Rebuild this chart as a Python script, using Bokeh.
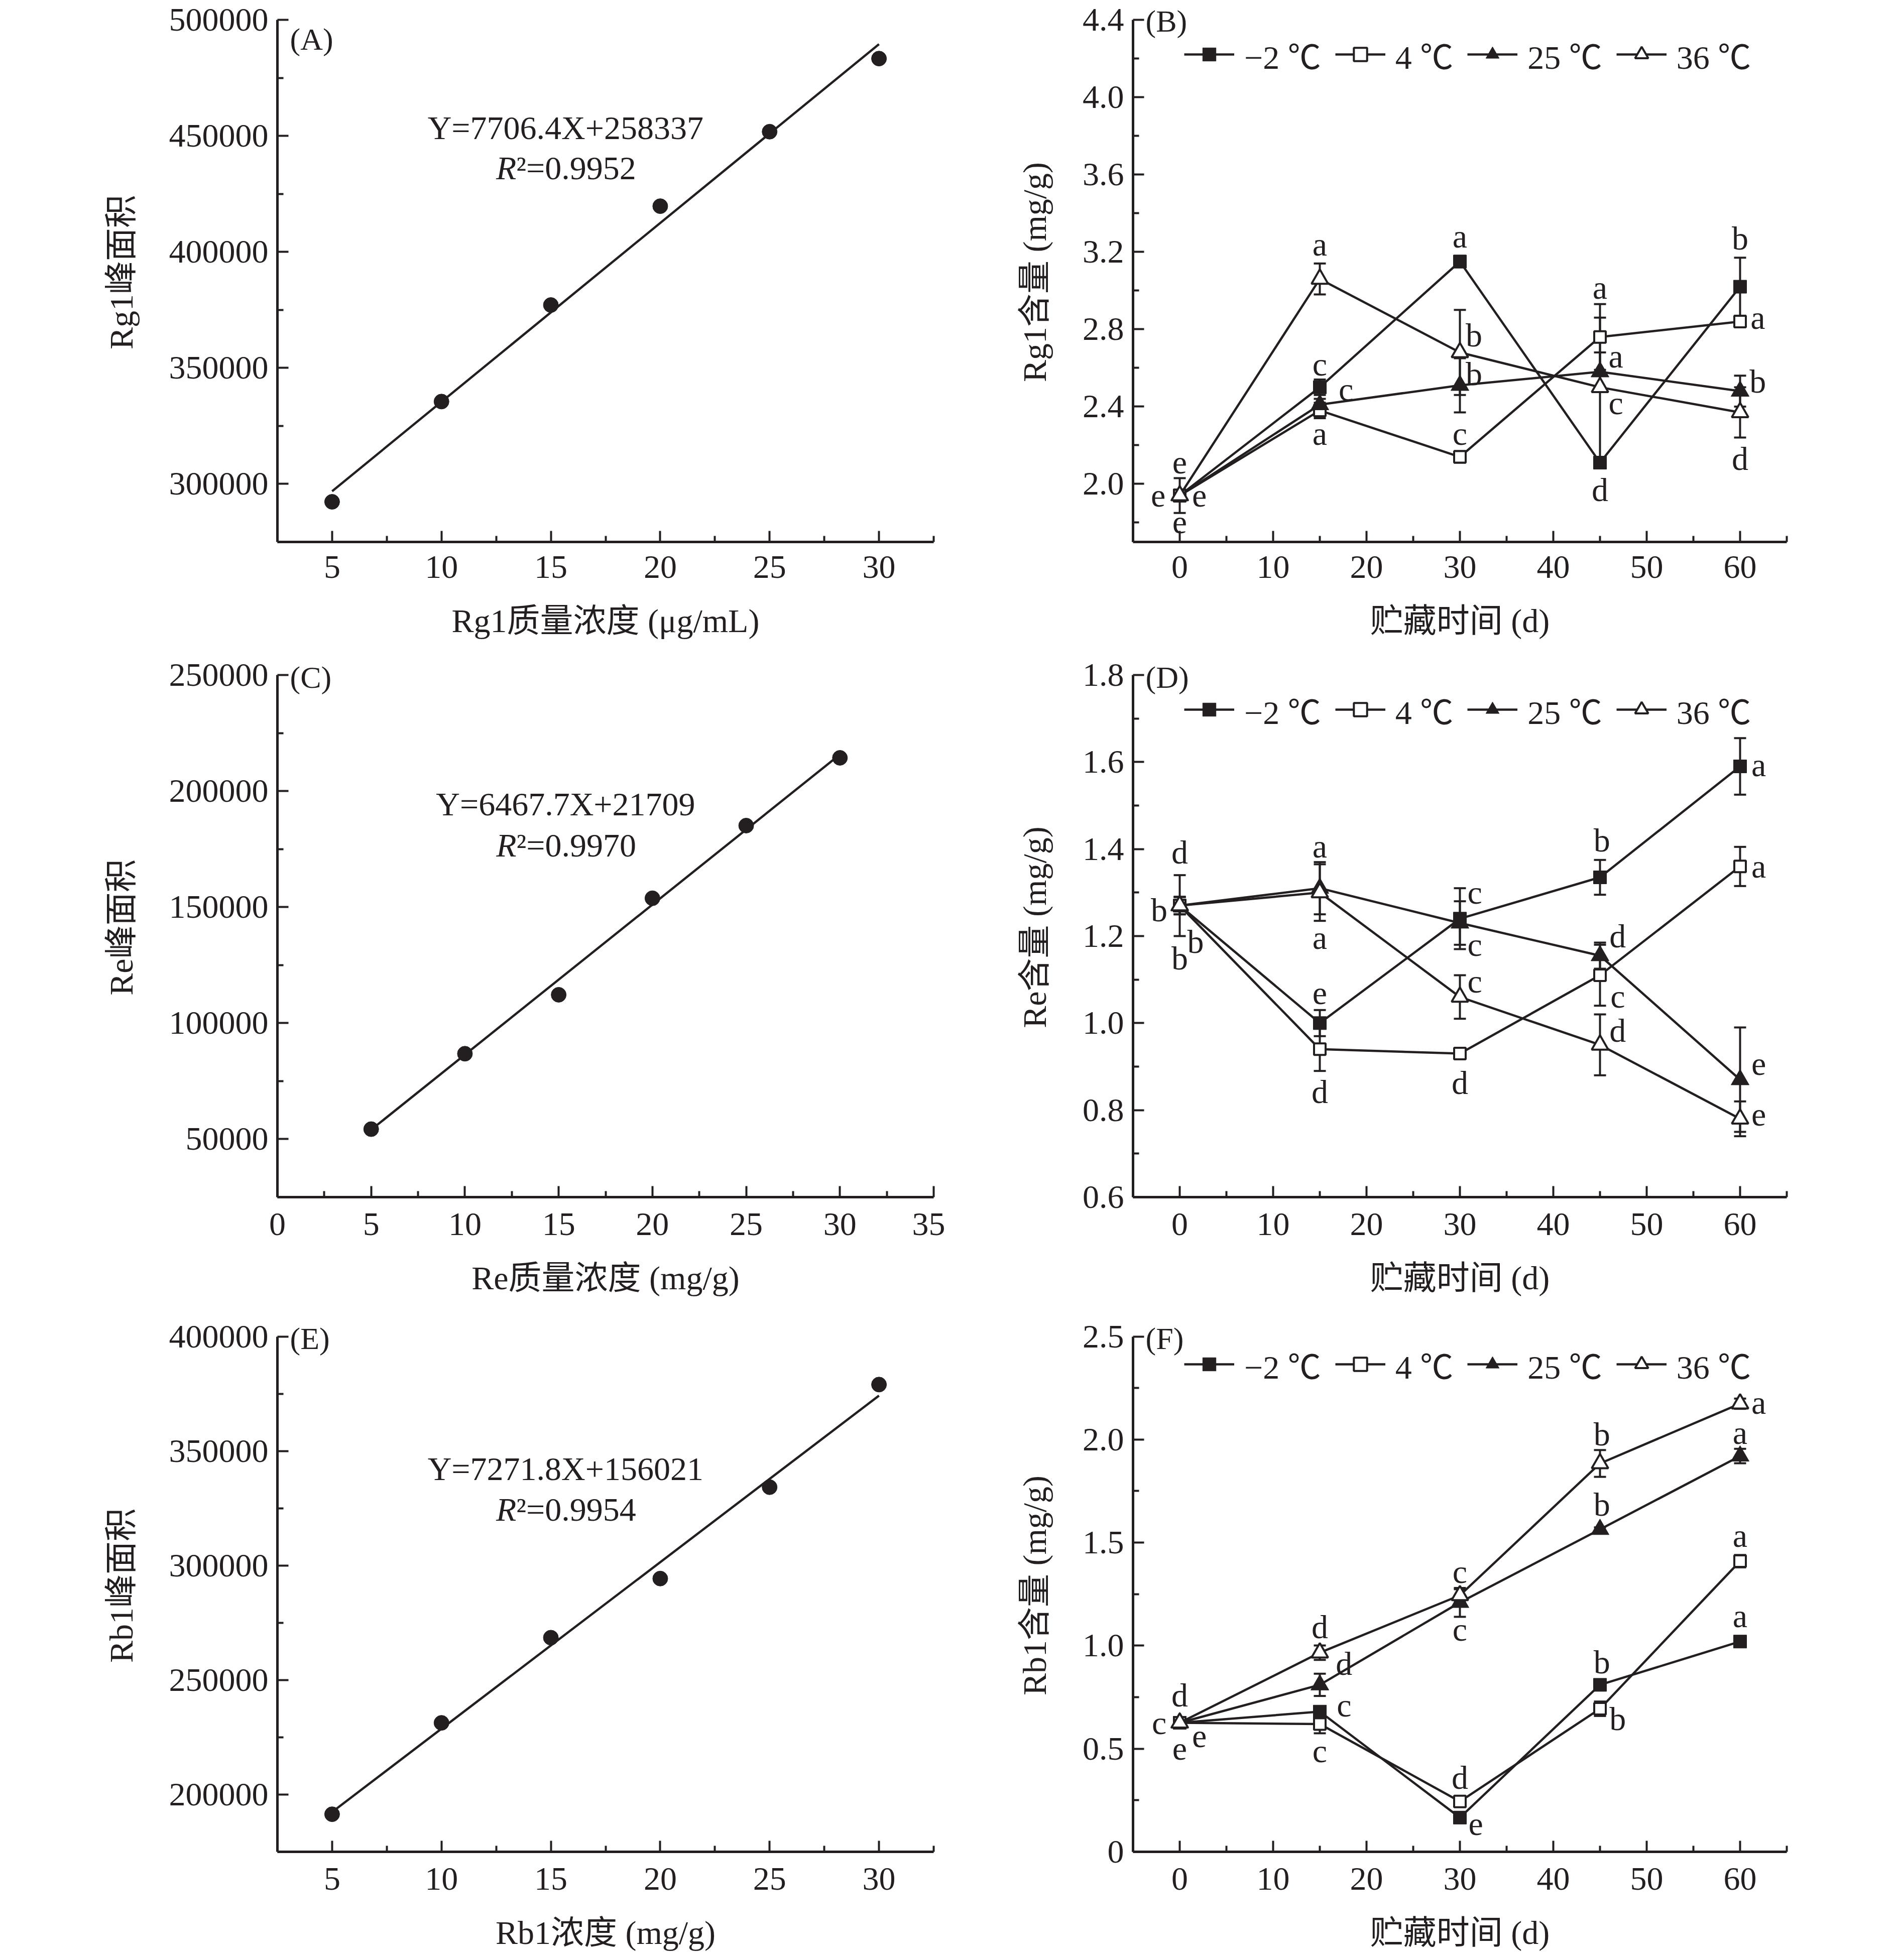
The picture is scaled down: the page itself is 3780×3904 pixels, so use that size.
from bokeh.plotting import figure
from bokeh.models import (ColumnDataSource, Whisker, TeeHead, Label, Legend, LegendItem,
                          FixedTicker, Range1d, PrintfTickFormatter)
from bokeh.layouts import column, row
from bokeh.embed import file_html
from bokeh.resources import INLINE
from bokeh.core.properties import value

FONT = "'Liberation Serif', 'Noto Sans CJK SC'"
INK = "#231f20"
FS = "66px"

# ---------------- standard curves ----------------
conc_A = [5, 10, 15, 20, 25, 30]
area_A = [292300, 335500, 377100, 419700, 451800, 483300]
slope_A, icpt_A = 7706.4, 258337
eq_A, r2_A = "Y=7706.4X+258337", "0.9952"

conc_C = [5, 10, 15, 20, 25, 30]
area_C = [54300, 86800, 112200, 153800, 185100, 214300]
slope_C, icpt_C = 6467.7, 21709
eq_C, r2_C = "Y=6467.7X+21709", "0.9970"

conc_E = [5, 10, 15, 20, 25, 30]
area_E = [191400, 231300, 268500, 294300, 334200, 379000]
slope_E, icpt_E = 7271.8, 156021
eq_E, r2_E = "Y=7271.8X+156021", "0.9954"

# ---------------- storage series ----------------
days = [0, 15, 30, 45, 60]
series_names = ["\u22122 \u2103", "4 \u2103", "25 \u2103", "36 \u2103"]

rg1_m2 = [1.94, 2.50, 3.15, 2.11, 3.02]
rg1_m2_err = [0.09, 0.04, 0.03, 0.02, 0.15]
rg1_4 = [1.94, 2.38, 2.14, 2.76, 2.84]
rg1_4_err = [0.03, 0.04, 0.03, 0.17, 0.02]
rg1_25 = [1.94, 2.41, 2.51, 2.58, 2.48]
rg1_25_err = [0.03, 0.03, 0.14, 0.10, 0.08]
rg1_36 = [1.94, 3.06, 2.68, 2.50, 2.37]
rg1_36_err = [0.03, 0.08, 0.22, 0.36, 0.13]

re_m2 = [1.27, 1.00, 1.24, 1.335, 1.59]
re_m2_err = [0.07, 0.03, 0.07, 0.04, 0.065]
re_4 = [1.27, 0.94, 0.93, 1.11, 1.36]
re_4_err = [0.02, 0.05, 0.01, 0.07, 0.045]
re_25 = [1.27, 1.31, 1.23, 1.155, 0.87]
re_25_err = [0.02, 0.06, 0.05, 0.03, 0.12]
re_36 = [1.27, 1.30, 1.06, 0.95, 0.78]
re_36_err = [0.02, 0.065, 0.05, 0.07, 0.04]

rb1_m2 = [0.626, 0.68, 0.166, 0.81, 1.02]
rb1_m2_err = [0.02, 0.02, 0.02, 0.02, 0.02]
rb1_4 = [0.626, 0.62, 0.244, 0.694, 1.41]
rb1_4_err = [0.02, 0.045, 0.015, 0.035, 0.03]
rb1_25 = [0.626, 0.81, 1.21, 1.564, 1.92]
rb1_25_err = [0.02, 0.054, 0.07, 0.01, 0.035]
rb1_36 = [0.626, 0.966, 1.244, 1.884, 2.174]
rb1_36_err = [0.02, 0.035, 0.03, 0.065, 0.025]

# significance letters (x, y, letter) in data units
letters_B_x = [0, -2.3, 2.1, 0, 15, 15, 17.8, 15, 30, 31.5, 31.5, 30, 45, 46.7, 46.7, 45, 60, 61.9, 61.9, 60]
letters_B_y = [2.11, 1.94, 1.94, 1.80, 3.24, 2.62, 2.49, 2.26, 3.28, 2.77, 2.57, 2.26, 3.015, 2.66, 2.42, 1.97, 3.27, 2.86, 2.53, 2.13]
letters_B_t = ["e", "e", "e", "e", "a", "c", "c", "a", "a", "b", "b", "c", "a", "a", "c", "d", "b", "a", "b", "d"]

letters_D_x = [0, -2.2, 1.7, 0, 15, 15, 15, 15, 31.6, 31.6, 31.6, 30, 45.2, 46.9, 46.9, 46.9, 62, 62, 62, 62]
letters_D_y = [1.393, 1.26, 1.187, 1.149, 1.407, 1.196, 1.069, 0.842, 1.30, 1.18, 1.096, 0.863, 1.42, 1.20, 1.062, 0.983, 1.594, 1.36, 0.906, 0.789]
letters_D_t = ["d", "b", "b", "b", "a", "a", "e", "d", "c", "c", "c", "d", "b", "d", "c", "d", "a", "a", "e", "e"]

letters_F_x = [0, -2.2, 2.1, 0, 15, 17.6, 17.6, 15, 30, 30, 30, 31.7, 45.2, 45.2, 45.2, 46.9, 62, 60, 60, 60]
letters_F_y = [0.76, 0.626, 0.56, 0.50, 1.09, 0.914, 0.71, 0.49, 1.36, 1.08, 0.36, 0.134, 2.026, 1.686, 0.92, 0.646, 2.18, 2.034, 1.534, 1.144]
letters_F_t = ["d", "c", "e", "e", "d", "d", "c", "c", "c", "c", "d", "e", "b", "b", "b", "b", "a", "a", "a", "a"]

# ---------------- axes ticks ----------------
xt_std = [5, 10, 15, 20, 25, 30]
xt_std_lab = ["5", "10", "15", "20", "25", "30"]
xt_std_minor = [7.5, 12.5, 17.5, 22.5, 27.5, 32.5]
xt_C = [0, 5, 10, 15, 20, 25, 30, 35]
xt_C_lab = ["0", "5", "10", "15", "20", "25", "30", "35"]
xt_C_minor = [2.5, 7.5, 12.5, 17.5, 22.5, 27.5, 32.5]
xt_day = [0, 10, 20, 30, 40, 50, 60]
xt_day_lab = ["0", "10", "20", "30", "40", "50", "60"]
xt_day_minor = [-5, 5, 15, 25, 35, 45, 55, 65]

yt_A = [300000, 350000, 400000, 450000, 500000]
yt_A_lab = ["300000", "350000", "400000", "450000", "500000"]
yt_A_minor = [275000, 325000, 375000, 425000, 475000]
yt_C = [50000, 100000, 150000, 200000, 250000]
yt_C_lab = ["50000", "100000", "150000", "200000", "250000"]
yt_C_minor = [25000, 75000, 125000, 175000, 225000]
yt_E = [200000, 250000, 300000, 350000, 400000]
yt_E_lab = ["200000", "250000", "300000", "350000", "400000"]
yt_E_minor = [175000, 225000, 275000, 325000, 375000]
yt_B = [2.0, 2.4, 2.8, 3.2, 3.6, 4.0, 4.4]
yt_B_lab = ["2.0", "2.4", "2.8", "3.2", "3.6", "4.0", "4.4"]
yt_B_minor = [1.8, 2.2, 2.6, 3.0, 3.4, 3.8, 4.2]
yt_D = [0.6, 0.8, 1.0, 1.2, 1.4, 1.6, 1.8]
yt_D_lab = ["0.6", "0.8", "1.0", "1.2", "1.4", "1.6", "1.8"]
yt_D_minor = [0.7, 0.9, 1.1, 1.3, 1.5, 1.7]
yt_F = [0, 0.5, 1.0, 1.5, 2.0, 2.5]
yt_F_lab = ["0", "0.5", "1.0", "1.5", "2.0", "2.5"]
yt_F_minor = [0.25, 0.75, 1.25, 1.75, 2.25]

# ---------------- layout constants ----------------
FIG_W = 1882
AXIS_H = 1040          # pixel height of the drawn y axis
HEAD = 35              # free frame space above the top tick (for panel letters)
LEFT_COL = dict(bl=552, br=23)
RIGHT_COL = dict(bl=374, br=206)
ROWS = [dict(h=1290, bt=4, xs=28), dict(h=1318, bt=19, xs=32), dict(h=1280, bt=19, xs=32)]


def style_axis(ax, ticks, minor, labels, fmt, label, lab_standoff, tick_standoff):
    ax.ticker = FixedTicker(ticks=ticks, minor_ticks=minor)
    ax.formatter = PrintfTickFormatter(format=fmt)
    ax.major_label_overrides = {t: l for t, l in zip(ticks, labels)}
    ax.axis_label = label
    ax.axis_line_width = 5
    ax.axis_line_color = INK
    ax.major_tick_line_width = 4
    ax.minor_tick_line_width = 4
    ax.major_tick_line_color = INK
    ax.minor_tick_line_color = INK
    ax.major_tick_in = 22
    ax.major_tick_out = 0
    ax.minor_tick_in = 12
    ax.minor_tick_out = 0
    ax.major_label_standoff = tick_standoff
    ax.major_label_text_font = FONT
    ax.major_label_text_font_size = FS
    ax.major_label_text_color = INK
    ax.axis_label_text_font = FONT
    ax.axis_label_text_font_size = FS
    ax.axis_label_text_font_style = "normal"
    ax.axis_label_text_color = INK
    ax.axis_label_standoff = lab_standoff


def make_fig(col, rw, xr, yr, xt, xm, xl, xfmt, xlabel, yt, ym, yl, yfmt, ylabel):
    ytop = yr[1] + HEAD * (yr[1] - yr[0]) / AXIS_H
    fh = AXIS_H + HEAD
    p = figure(width=FIG_W, height=rw["h"], x_range=Range1d(*xr), y_range=Range1d(yr[0], ytop),
               output_backend="svg", toolbar_location=None, title=None,
               min_border_left=col["bl"], min_border_right=col["br"],
               min_border_top=rw["bt"], min_border_bottom=rw["h"] - rw["bt"] - fh)
    p.outline_line_color = None
    p.xgrid.visible = False
    p.ygrid.visible = False
    p.background_fill_color = "white"
    p.border_fill_color = "white"
    style_axis(p.xaxis[0], xt, xm, xl, xfmt, xlabel, 46, rw["xs"])
    style_axis(p.yaxis[0], yt, ym, yl, yfmt, ylabel, 56, 18)
    p.yaxis[0].bounds = (yr[0], yr[1])
    return p


def panel_label(p, text, xr, yr, dy):
    p.add_layout(Label(x=xr[0], y=yr[1], x_offset=25, y_offset=dy, text=text,
                       text_font=FONT, text_font_size="62px", text_color=INK,
                       text_align="left", text_baseline="middle"))


def std_panel(p, conc, area, slope, icpt, eq, r2, ex, ey1, ey2):
    xs = [conc[0], conc[-1]]
    p.line(xs, [slope * x + icpt for x in xs], line_color=INK, line_width=4.5)
    p.scatter(conc, area, marker="circle", size=30, fill_color=INK, line_color=INK)
    p.add_layout(Label(x=ex, y=ey1, text=eq, text_font=FONT, text_font_size=FS,
                       text_color=INK, text_align="center", text_baseline="middle"))
    p.add_layout(Label(x=ex, y=ey2, x_offset=-98, text="R", text_font=FONT, text_font_size=FS,
                       text_font_style="italic", text_color=INK, text_align="right",
                       text_baseline="middle"))
    p.add_layout(Label(x=ex, y=ey2, x_offset=-98, text="\u00b2=" + r2, text_font=FONT,
                       text_font_size=FS, text_color=INK, text_align="left",
                       text_baseline="middle"))


STYLES = [
    dict(marker="square", size=26, fill_color=INK, line_width=1),
    dict(marker="square", size=23, fill_color="white", line_width=4),
    dict(marker="triangle", size=36, fill_color=INK, line_width=1),
    dict(marker="triangle", size=33, fill_color="white", line_width=4),
]


def storage_panel(p, vals, errs, lx, ly, lt):
    items = []
    for v, e, st, name in zip(vals, errs, STYLES, series_names):
        src = ColumnDataSource(dict(x=days, y=v, up=[a + b for a, b in zip(v, e)],
                                    lo=[a - b for a, b in zip(v, e)]))
        p.add_layout(Whisker(source=src, base="x", upper="up", lower="lo", dimension="height",
                             line_color=INK, line_width=4,
                             upper_head=TeeHead(size=24, line_width=4, line_color=INK),
                             lower_head=TeeHead(size=24, line_width=4, line_color=INK)))
        lr = p.line("x", "y", source=src, line_color=INK, line_width=4.5)
        sr = p.scatter("x", "y", source=src, marker=st["marker"], size=st["size"],
                       fill_color=st["fill_color"], line_color=INK, line_width=st["line_width"])
        items.append(LegendItem(label=name, renderers=[lr, sr]))
    p.text(x=lx, y=ly, text=lt, text_font=value(FONT), text_font_size=FS, text_color=INK,
           text_align="center", text_baseline="middle")
    leg = Legend(items=items, orientation="horizontal", location=(102, 923),
                 label_text_font=FONT, label_text_font_size=FS, label_text_color=INK,
                 glyph_width=100, glyph_height=66, label_standoff=20, spacing=28,
                 padding=0, margin=0, border_line_color=None, background_fill_alpha=0,
                 label_height=66)
    p.add_layout(leg)


# ---- A
xrA, yrA = (2.5, 32.5), (275000, 500000)
pA = make_fig(LEFT_COL, ROWS[0], xrA, yrA, xt_std, xt_std_minor, xt_std_lab, "%d",
              "Rg1质量浓度 (μg/mL)", yt_A, yt_A_minor, yt_A_lab, "%d", "Rg1峰面积")
std_panel(pA, conc_A, area_A, slope_A, icpt_A, eq_A, r2_A, 15.67, 453460, 436150)
panel_label(pA, "(A)", xrA, yrA, -38)

# ---- B
xrB, yrB = (-5, 65), (1.7, 4.4)
pB = make_fig(RIGHT_COL, ROWS[0], xrB, yrB, xt_day, xt_day_minor, xt_day_lab, "%d",
              "贮藏时间 (d)", yt_B, yt_B_minor, yt_B_lab, "%.1f", "Rg1含量 (mg/g)")
storage_panel(pB, [rg1_m2, rg1_4, rg1_25, rg1_36],
              [rg1_m2_err, rg1_4_err, rg1_25_err, rg1_36_err],
              letters_B_x, letters_B_y, letters_B_t)
panel_label(pB, "(B)", xrB, yrB, -2)

# ---- C
xrC, yrC = (0, 35), (25000, 250000)
pC = make_fig(LEFT_COL, ROWS[1], xrC, yrC, xt_C, xt_C_minor, xt_C_lab, "%d",
              "Re质量浓度 (mg/g)", yt_C, yt_C_minor, yt_C_lab, "%d", "Re峰面积")
std_panel(pC, conc_C, area_C, slope_C, icpt_C, eq_C, r2_C, 15.37, 194400, 176600)
panel_label(pC, "(C)", xrC, yrC, -4)

# ---- D
xrD, yrD = (-5, 65), (0.6, 1.8)
pD = make_fig(RIGHT_COL, ROWS[1], xrD, yrD, xt_day, xt_day_minor, xt_day_lab, "%d",
              "贮藏时间 (d)", yt_D, yt_D_minor, yt_D_lab, "%.1f", "Re含量 (mg/g)")
storage_panel(pD, [re_m2, re_4, re_25, re_36],
              [re_m2_err, re_4_err, re_25_err, re_36_err],
              letters_D_x, letters_D_y, letters_D_t)
panel_label(pD, "(D)", xrD, yrD, -4)

# ---- E
xrE, yrE = (2.5, 32.5), (175000, 400000)
pE = make_fig(LEFT_COL, ROWS[2], xrE, yrE, xt_std, xt_std_minor, xt_std_lab, "%d",
              "Rb1浓度 (mg/g)", yt_E, yt_E_minor, yt_E_lab, "%d", "Rb1峰面积")
std_panel(pE, conc_E, area_E, slope_E, icpt_E, eq_E, r2_E, 15.67, 342200, 324450)
panel_label(pE, "(E)", xrE, yrE, -4)

# ---- F
xrF, yrF = (-5, 65), (0, 2.5)
pF = make_fig(RIGHT_COL, ROWS[2], xrF, yrF, xt_day, xt_day_minor, xt_day_lab, "%d",
              "贮藏时间 (d)", yt_F, yt_F_minor, yt_F_lab, "%.1f", "Rb1含量 (mg/g)")
storage_panel(pF, [rb1_m2, rb1_4, rb1_25, rb1_36],
              [rb1_m2_err, rb1_4_err, rb1_25_err, rb1_36_err],
              letters_F_x, letters_F_y, letters_F_t)
panel_label(pF, "(F)", xrF, yrF, -4)

layout = column(row(pA, pB), row(pC, pD), row(pE, pF))
open("out.html", "w").write(file_html(layout, INLINE))
